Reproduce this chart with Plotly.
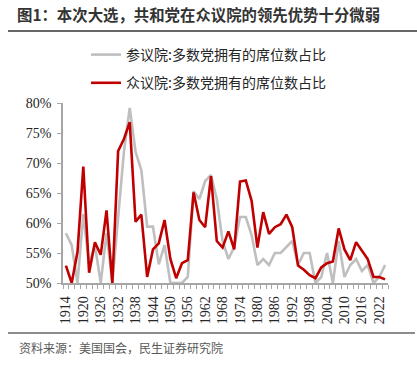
import plotly.graph_objects as go

years = [1914, 1916, 1918, 1920, 1922, 1924, 1926, 1928, 1930, 1932, 1934, 1936, 1938, 1940,
         1942, 1944, 1946, 1948, 1950, 1952, 1954, 1956, 1958, 1960, 1962, 1964, 1966, 1968,
         1970, 1972, 1974, 1976, 1978, 1980, 1982, 1984, 1986, 1988, 1990, 1992, 1994, 1996,
         1998, 2000, 2002, 2004, 2006, 2008, 2010, 2012, 2014, 2016, 2018, 2020, 2022, 2024]

senate = [58.3, 56.3, 50.0, 61.5, 53.1, 56.3, 50.0, 58.3, 50.0, 61.5, 71.9, 79.2, 71.9, 68.8,
          59.4, 59.4, 53.1, 56.3, 50.0, 50.0, 50.0, 51.0, 65.3, 64.0, 67.0, 68.0, 64.0, 57.0,
          54.0, 56.0, 61.0, 61.0, 58.0, 53.0, 54.0, 53.0, 55.0, 55.0, 56.0, 57.0, 53.0, 55.0,
          55.0, 50.0, 51.0, 55.0, 50.0, 57.0, 51.0, 53.0, 54.0, 52.0, 53.0, 50.0, 51.0, 53.0]

house = [52.9, 50.0, 55.2, 69.4, 51.7, 56.8, 54.7, 62.1, 50.0, 72.0, 74.0, 76.8, 60.2, 61.4,
         51.0, 55.6, 56.6, 60.5, 54.0, 50.8, 53.3, 53.8, 65.1, 60.5, 59.3, 67.8, 57.0, 55.9,
         58.6, 55.6, 66.9, 67.1, 63.7, 55.9, 61.8, 58.2, 59.3, 59.8, 61.4, 59.3, 52.9, 52.2,
         51.3, 50.8, 52.6, 53.3, 53.6, 59.1, 55.6, 53.8, 56.8, 55.4, 54.0, 51.0, 51.0, 50.6]

tick_years = [1914, 1920, 1926, 1932, 1938, 1944, 1950, 1956, 1962, 1968, 1974, 1980,
              1986, 1992, 1998, 2004, 2010, 2016, 2022]
tick_labels = [str(y) for y in tick_years]

name_senate = "参议院:多数党拥有的席位数占比"
name_house = "众议院:多数党拥有的席位数占比"
title_text = "图1：本次大选，共和党在众议院的领先优势十分微弱"
source_text = "资料来源：美国国会，民生证券研究院"

W, H = 417, 366
L, R, T, B = 63, 29, 103, 83
pw, ph = W - L - R, H - T - B

def px(x):
    return (x - L) / pw

def py(y):
    return (H - B - y) / ph

fig = go.Figure()
fig.add_trace(go.Scatter(x=years, y=senate, mode="lines", name=name_senate,
                         legendgroup="a",
                         line=dict(color="#bfbfbf", width=2.6)))
fig.add_trace(go.Scatter(x=years, y=house, mode="lines", name=name_house,
                         legendgroup="b",
                         line=dict(color="#c00000", width=2.6)))

axis_color = "#a6a6a6"
serif = "Liberation Serif, Times New Roman, serif"
cjk = "Noto Sans CJK SC, sans-serif"

fig.update_layout(
    width=W, height=H,
    margin=dict(l=L, r=R, t=T, b=B, pad=0, autoexpand=False),
    paper_bgcolor="white", plot_bgcolor="white",
    showlegend=True,
    title=dict(text="<b>" + title_text + "</b>",
               xref="container", yref="container",
               x=17 / W, y=1 - 16 / H, xanchor="left", yanchor="middle",
               font=dict(family=cjk, size=15.4, color="#333333")),
    legend=dict(
        xref="paper", yref="paper",
        x=px(86), y=py(39), xanchor="left", yanchor="top",
        font=dict(family=cjk, size=14, color="#262626"),
        bgcolor="rgba(0,0,0,0)", tracegroupgap=7,
        itemwidth=30,
    ),
    xaxis=dict(
        range=[1913, 2025], automargin=False,
        tickmode="array", tickvals=tick_years, ticktext=tick_labels,
        tickangle=-90, ticks="",
        tickfont=dict(family=serif, size=14, color="#262626"),
        showline=True, linecolor=axis_color, linewidth=1.5,
        showgrid=False, zeroline=False,
        ticklabelstandoff=6,
        minor=dict(ticks="outside", tick0=1913, dtick=2, ticklen=4,
                   tickcolor=axis_color, tickwidth=1, showgrid=False),
    ),
    yaxis=dict(
        range=[50, 80], dtick=5, tick0=50, ticksuffix="%", automargin=False,
        ticks="outside", ticklen=4, tickcolor=axis_color,
        tickfont=dict(family=serif, size=14, color="#262626"),
        showline=True, linecolor=axis_color, linewidth=1.5,
        showgrid=False, zeroline=False,
        ticklabelstandoff=3,
    ),
    annotations=[
        dict(text=source_text, xref="paper", yref="paper",
             x=px(17), y=py(347), xanchor="left", yanchor="middle", showarrow=False,
             font=dict(family=cjk, size=12, color="#595959")),
    ],
    shapes=[
        dict(type="line", xref="paper", yref="paper",
             x0=px(8), x1=px(417), y0=py(31), y1=py(31),
             line=dict(color="#666666", width=2)),
        dict(type="line", xref="paper", yref="paper",
             x0=px(8), x1=px(415), y0=py(333), y1=py(333),
             line=dict(color="#666666", width=1.5)),
    ],
)

fig.write_html("out.html", config={"displayModeBar": False},
               post_script="document.body.style.margin='0px';")
